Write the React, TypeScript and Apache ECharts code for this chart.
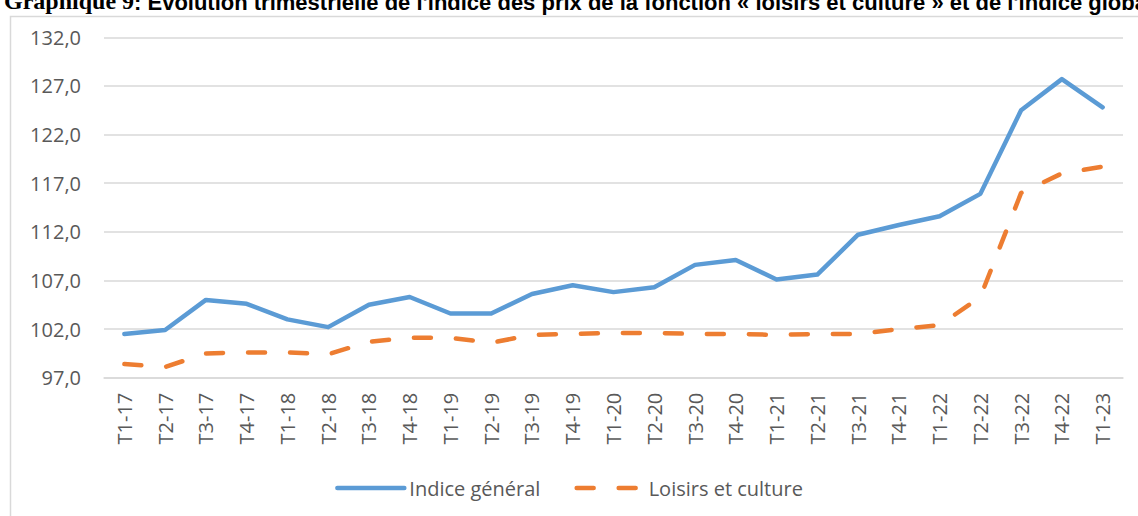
import React, { useEffect, useRef } from "react";
import * as echarts from "echarts";

const categories = [
  "T1-17", "T2-17", "T3-17", "T4-17",
  "T1-18", "T2-18", "T3-18", "T4-18",
  "T1-19", "T2-19", "T3-19", "T4-19",
  "T1-20", "T2-20", "T3-20", "T4-20",
  "T1-21", "T2-21", "T3-21", "T4-21",
  "T1-22", "T2-22", "T3-22", "T4-22",
  "T1-23",
];

const indiceGeneral = [
  101.5, 101.9, 105.0, 104.6,
  103.0, 102.2, 104.5, 105.3,
  103.6, 103.6, 105.6, 106.5,
  105.8, 106.3, 108.6, 109.1,
  107.1, 107.6, 111.7, 112.7,
  113.6, 115.9, 124.5, 127.7,
  124.8,
];

const loisirsCulture = [
  98.4, 98.1, 99.5, 99.6,
  99.6, 99.4, 100.7, 101.1,
  101.1, 100.6, 101.4, 101.5,
  101.6, 101.6, 101.5, 101.5,
  101.4, 101.5, 101.5, 102.0,
  102.4, 105.3, 116.0, 118.0,
  118.7,
];

const Y_MIN = 97;
const Y_MAX = 132;
const Y_STEP = 5;

const seriesNames = ["Indice général", "Loisirs et culture"];
const titleLead = "Graphique 9";
const titleRest =
  ": Évolution trimestrielle de l'indice des prix de la fonction « loisirs et culture » et de l'indice global";

const FONT = "'Open Sans', sans-serif";
const TEXT_COLOR = "#595959";

export default function App() {
  const ref = useRef<HTMLDivElement>(null);

  useEffect(() => {
    if (!ref.current) return;
    const chart = echarts.init(ref.current, null, { renderer: "svg" });
    const shift = (arr: number[]) => arr.map((v) => +(v - Y_MIN).toFixed(3));
    chart.setOption({
      animation: false,
      backgroundColor: "#ffffff",
      graphic: [
        {
          type: "rect",
          shape: { x: 10.5, y: 16.5, width: 1140, height: 510 },
          style: { fill: "none", stroke: "#d9d9d9", lineWidth: 1.5 },
          silent: true,
        },
        {
          type: "text",
          x: 4,
          y: 13,
          style: {
            text: "{a|" + titleLead + "}{b|" + titleRest + "}",
            verticalAlign: "bottom",
            rich: {
              a: {
                fontFamily: "'Liberation Serif', 'Times New Roman', serif",
                fontWeight: "bold",
                fontSize: 24,
                fill: "#000",
                verticalAlign: "bottom",
              },
              b: {
                fontFamily: "'Liberation Sans', Arial, sans-serif",
                fontWeight: "bold",
                fontSize: 22,
                fill: "#000",
                verticalAlign: "bottom",
              },
            },
          },
          silent: true,
        },
      ],
      legend: {
        data: seriesNames,
        left: "center",
        top: 473,
        itemWidth: 67,
        itemHeight: 14,
        itemGap: 34,
        itemStyle: { opacity: 0 },
        lineStyle: { width: 4.5, cap: "round" },
        textStyle: { fontFamily: FONT, fontSize: 20, color: TEXT_COLOR },
      },
      grid: { left: 104, right: 15, top: 37.3, bottom: 138.3, containLabel: false },
      xAxis: {
        type: "category",
        data: categories,
        boundaryGap: true,
        axisLine: { lineStyle: { color: "#d9d9d9", width: 1.5 } },
        axisTick: { show: false },
        axisLabel: {
          rotate: 90,
          margin: 15,
          interval: 0,
          fontFamily: FONT,
          fontSize: 20,
          color: TEXT_COLOR,
        },
      },
      yAxis: {
        type: "value",
        min: 0,
        max: Y_MAX - Y_MIN,
        interval: Y_STEP,
        axisLine: { show: false },
        axisTick: { show: false },
        splitLine: { lineStyle: { color: "#d9d9d9", width: 1.5 } },
        axisLabel: {
          margin: 23,
          fontFamily: FONT,
          fontSize: 20,
          color: TEXT_COLOR,
          formatter: (v: number) => (v + Y_MIN).toFixed(1).replace(".", ","),
        },
      },
      series: [
        {
          name: seriesNames[0],
          type: "line",
          data: shift(indiceGeneral),
          symbol: "none",
          smooth: false,
          itemStyle: { color: "#5B9BD5" },
          lineStyle: { color: "#5B9BD5", width: 4.5, cap: "round", join: "round" },
        },
        {
          name: seriesNames[1],
          type: "line",
          data: shift(loisirsCulture),
          symbol: "none",
          smooth: false,
          itemStyle: { color: "#ED7D31" },
          lineStyle: {
            color: "#ED7D31",
            width: 4.5,
            type: [17, 25],
            cap: "round",
            join: "round",
          },
        },
      ],
    });
    return () => chart.dispose();
  }, []);

  return (
    <div
      ref={ref}
      style={{ width: 1138, height: 516, position: "absolute", left: 0, top: 0 }}
    />
  );
}
